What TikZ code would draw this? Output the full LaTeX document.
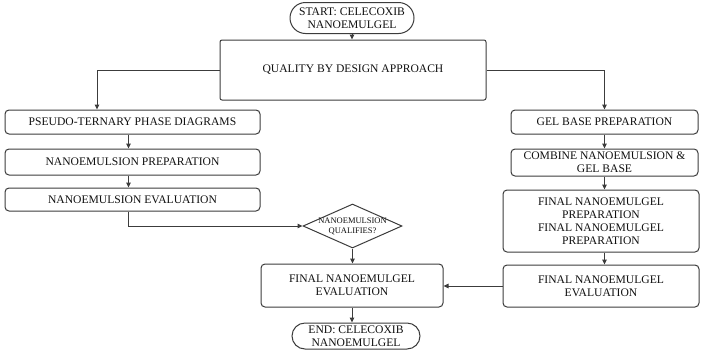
\documentclass[tikz,border=0pt]{standalone}
\usepackage{fontspec}
\setmainfont{Liberation Serif}
\usetikzlibrary{arrows.meta,shapes.geometric,shapes.misc}
\definecolor{edge}{HTML}{3C3C3C}
\definecolor{ink}{HTML}{101010}

\begin{document}
\begin{tikzpicture}[x=1pt, y=-1pt,
  stepbox/.style={draw=edge, rounded corners=4pt, fill=white, line width=1pt, align=center, text=ink, font=\fontsize{11.6}{13}\selectfont, inner sep=2pt},
  terminal/.style={stepbox, rounded rectangle, sharp corners},
  decision/.style={diamond, aspect=2.25, draw=edge, fill=white, line width=1pt, align=center, text=ink, font=\fontsize{8.5}{10}\selectfont, inner sep=-2pt, minimum width=99pt, minimum height=44pt},
  flow/.style={-{Triangle[length=5pt,width=4.5pt]}, draw=edge, line width=1pt}
]
  \useasboundingbox (0,0) rectangle (704,354);

  % Start and design approach
  \node[terminal, minimum width=128pt, minimum height=31pt] (start) at (352,18) {START: CELECOXIB\\NANOEMULGEL};
  \node[stepbox, rounded corners=2pt, minimum width=266pt, minimum height=60pt] (qbd) at (353,70) {QUALITY BY DESIGN APPROACH};

  % Nanoemulsion branch
  \node[stepbox, minimum width=255pt, minimum height=24pt] (ptpd) at (132.5,122) {PSEUDO-TERNARY PHASE DIAGRAMS};
  \node[stepbox, minimum width=255pt, minimum height=26pt] (nprep) at (132.5,162) {NANOEMULSION PREPARATION};
  \node[stepbox, minimum width=255pt, minimum height=23pt] (neval) at (132.5,199.5) {NANOEMULSION EVALUATION};

  % Gel branch
  \node[stepbox, minimum width=187pt, minimum height=24pt] (gel) at (604.5,122) {GEL BASE PREPARATION};
  \node[stepbox, minimum width=187pt, minimum height=27pt] (comb) at (604.5,162.5) {COMBINE NANOEMULSION \&\\GEL BASE};
  \node[stepbox, minimum width=196pt, minimum height=62pt] (fprep) at (601,221) {FINAL NANOEMULGEL\\PREPARATION\\FINAL NANOEMULGEL\\PREPARATION};
  \node[stepbox, minimum width=196pt, minimum height=42pt] (geval) at (601,286) {FINAL NANOEMULGEL\\EVALUATION};

  % Decision and end
  \node[decision] (qual) at (352.5,226) {NANOEMULSION\\QUALIFIES?};
  \node[stepbox, minimum width=182pt, minimum height=43pt] (feval) at (352,285.5) {FINAL NANOEMULGEL\\EVALUATION};
  \node[terminal, minimum width=132pt, minimum height=26pt] (end) at (356,336) {END: CELECOXIB\\NANOEMULGEL};

  % Connectors
  \coordinate (split) at (97,70);
  \draw[flow] (start.south) -- (start.south |- qbd.north);
  \draw[flow] (qbd.west) -- (split) -- (split |- ptpd.north);
  \draw[flow] (qbd.east) -| (gel.north);
  \draw[flow] ([xshift=-4pt]ptpd.south) -- ([xshift=-4pt]ptpd.south |- nprep.north);
  \draw[flow] ([xshift=-4pt]nprep.south) -- ([xshift=-4pt]nprep.south |- neval.north);
  \draw[flow] ([xshift=-4pt]neval.south) |- (qual.west);
  \draw[flow] (gel.south) -- (gel.south |- comb.north);
  \draw[flow] (comb.south) -- (comb.south |- fprep.north);
  \draw[flow] (comb.south |- fprep.south) -- (comb.south |- geval.north);
  \draw[flow] (geval.west) -- (geval.west -| feval.east);
  \draw[flow] (qual.south) -- (qual.south |- feval.north);
  \draw[flow] (feval.south) -- (feval.south |- end.north);
\end{tikzpicture}
\end{document}
